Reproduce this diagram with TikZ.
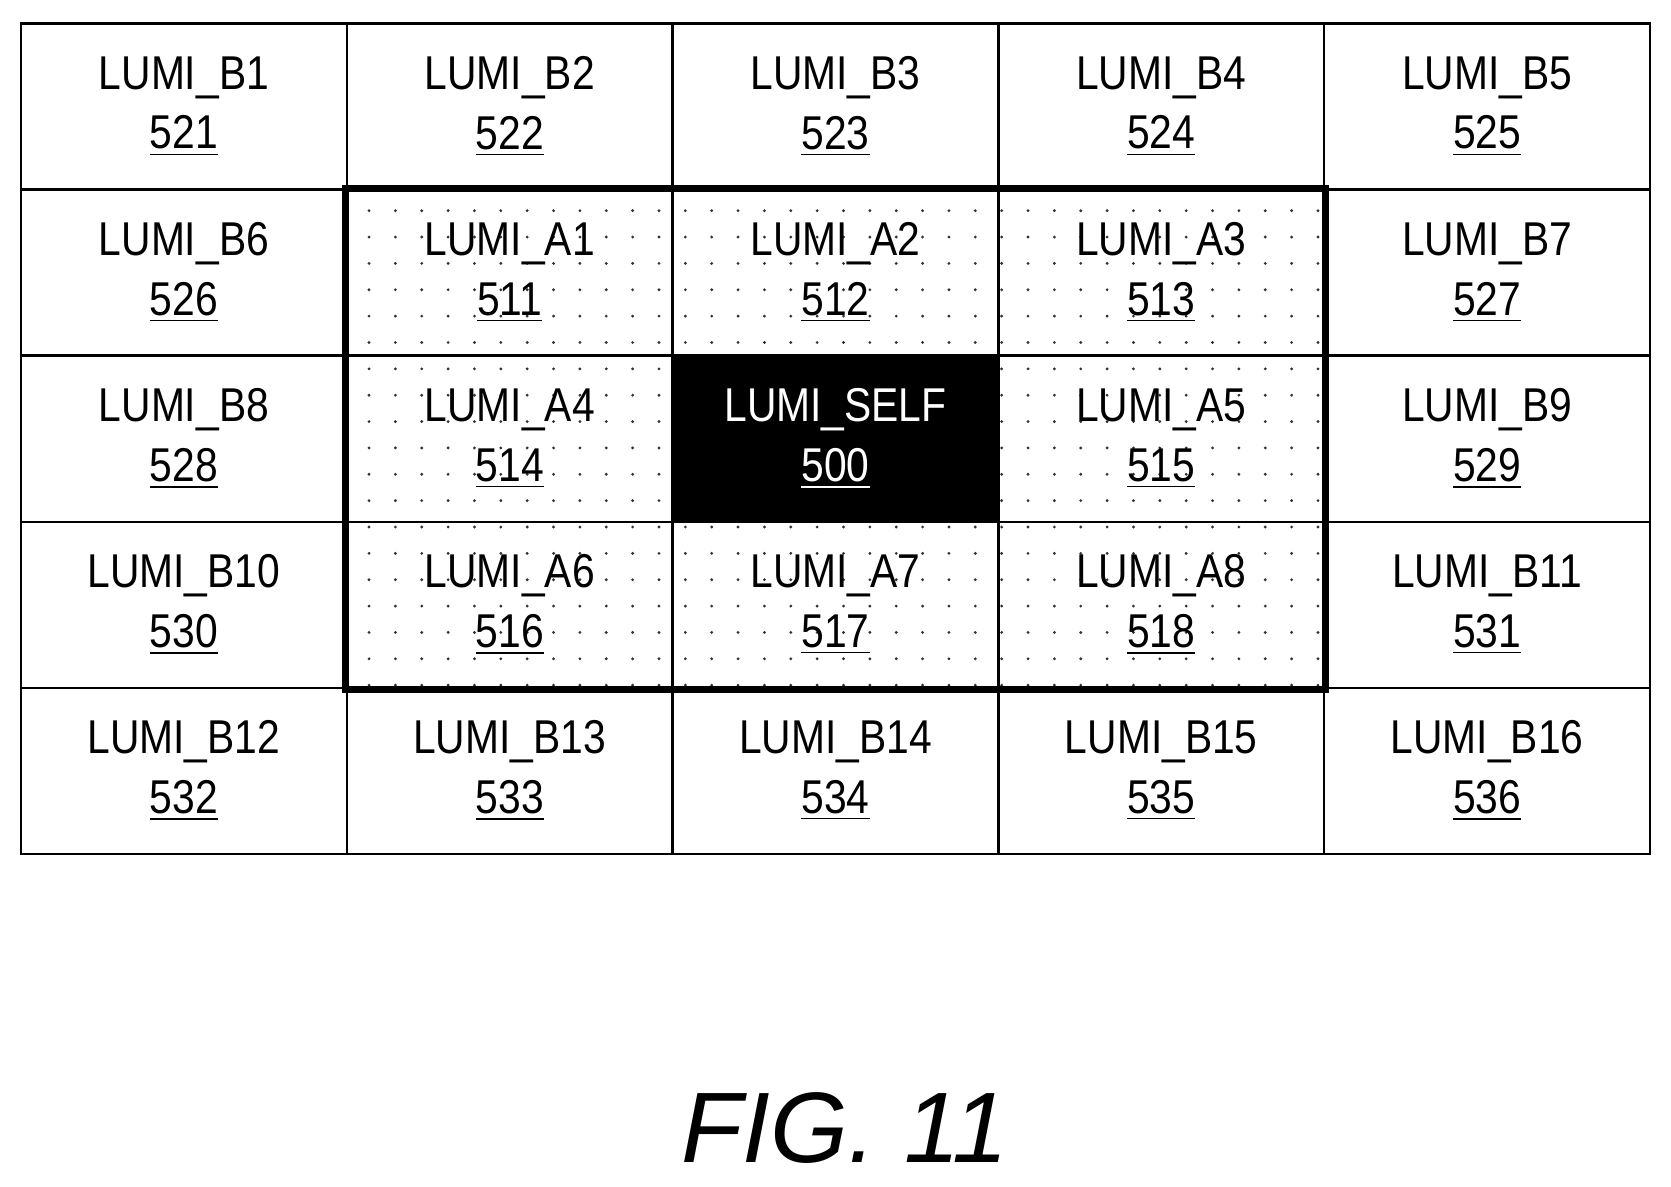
\documentclass[tikz,border=0pt]{standalone}
\usepackage{fontspec}
\setmainfont{Liberation Sans}
\newfontfamily\narrowsans[FakeStretch=0.86]{Liberation Sans}
\usetikzlibrary{patterns.meta}
\tikzdeclarepattern{name=sparsedots, type=uncolored,
  bottom left={(-.5pt,-.5pt)}, top right={(7.5pt,7.5pt)}, tile size={(7.5pt,7.5pt)},
  code={\fill (0,0) circle (.45pt);}}
\begin{document}
\begin{tikzpicture}[
    cell/.style={draw=black, line width=0.7pt, minimum width=3.258cm, minimum height=1.661cm,
        inner sep=0pt, font=\narrowsans\fontsize{13.5}{16}\selectfont, align=center},
    near/.style={cell, pattern={sparsedots}, pattern color=black!80},
    self/.style={cell, fill=black, text=white}]
    \useasboundingbox (0,0) rectangle (16.71,11.86);
    % outer ring
    \foreach \c/\r/\t/\n in {0/0/B1/521,1/0/B2/522,2/0/B3/523,3/0/B4/524,4/0/B5/525,
        0/1/B6/526,4/1/B7/527,0/2/B8/528,4/2/B9/529,0/3/B10/530,4/3/B11/531,
        0/4/B12/532,1/4/B13/533,2/4/B14/534,3/4/B15/535,4/4/B16/536}
        \node[cell] (b\n) at ({0.21+1.629+3.258*\c},{11.625-0.8305-1.661*\r})
            {LUMI\_\t\\[1pt]\underline{\n}};
    % inner ring
    \foreach \c/\r/\t/\n in {1/1/A1/511,2/1/A2/512,3/1/A3/513,1/2/A4/514,
        3/2/A5/515,1/3/A6/516,2/3/A7/517,3/3/A8/518}
        \node[near] (a\n) at ({0.21+1.629+3.258*\c},{11.625-0.8305-1.661*\r})
            {LUMI\_\t\\[1pt]\underline{\n}};
    \node[self] (s500) at ({0.21+1.629+3.258*2},{11.625-0.8305-1.661*2})
        {LUMI\_SELF\\[1pt]\underline{500}};
    \draw[line width=2pt] (a511.north west) rectangle (a518.south east);
    \node[font=\itshape\fontsize{28.5}{32}\selectfont] (fig) at (8.45,0.58) {FIG. 11};
\end{tikzpicture}
\end{document}
